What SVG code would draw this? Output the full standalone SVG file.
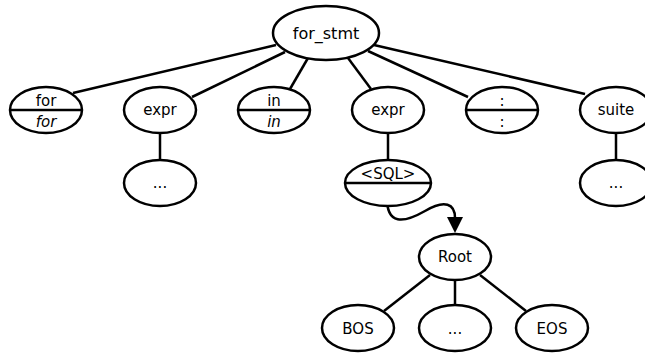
<svg xmlns="http://www.w3.org/2000/svg" width="645" height="356" viewBox="0 0 645 356">
<style>
.n{fill:#fff;stroke:#000;stroke-width:2.5}
.e{stroke:#000;stroke-width:2.5;fill:none}
text{font-family:"DejaVu Sans",sans-serif;font-size:15px;text-anchor:middle;fill:#000}
.i{font-style:italic}
</style>
<g id="connectors">
<line class="e" x1="276" y1="45" x2="73" y2="93"/>
<line class="e" x1="285" y1="52" x2="192" y2="97"/>
<line class="e" x1="308" y1="58" x2="290" y2="89"/>
<line class="e" x1="348" y1="58" x2="371" y2="89"/>
<line class="e" x1="368" y1="51" x2="468" y2="97"/>
<line class="e" x1="374" y1="45" x2="585" y2="94"/>
<line class="e" x1="160" y1="133" x2="160" y2="160"/>
<line class="e" x1="388" y1="133" x2="388" y2="160"/>
<line class="e" x1="616" y1="133" x2="616" y2="160"/>
<line class="e" x1="430" y1="275" x2="384" y2="311"/>
<line class="e" x1="455" y1="280" x2="455" y2="305"/>
<line class="e" x1="480" y1="275" x2="526" y2="311"/>
<path class="e" d="M387,196 C386,226 404,223 425,211 C445,199 455,204 455,218"/>
<path d="M447,217 L463,217 L455,233 z" fill="#000"/>
</g>
<g id="for_stmt"><ellipse class="n" cx="326" cy="33" rx="53" ry="27"/><text x="326" y="39" style="font-size:16px">for_stmt</text></g>
<g id="for"><ellipse class="n" cx="46" cy="110" rx="36" ry="23"/><line class="e" x1="10" y1="110" x2="82" y2="110"/><text x="46" y="106">for</text><text class="i" x="46" y="127">for</text></g>
<g id="expr1"><ellipse class="n" cx="160" cy="110" rx="36" ry="23"/><text x="160" y="115">expr</text></g>
<g id="in"><ellipse class="n" cx="274" cy="110" rx="36" ry="23"/><line class="e" x1="238" y1="110" x2="310" y2="110"/><text x="274" y="106">in</text><text class="i" x="274" y="127">in</text></g>
<g id="expr2"><ellipse class="n" cx="388" cy="110" rx="36" ry="23"/><text x="388" y="115">expr</text></g>
<g id="colon"><ellipse class="n" cx="502" cy="110" rx="36" ry="23"/><line class="e" x1="466" y1="110" x2="538" y2="110"/><text x="502" y="106">:</text><text x="502" y="127">:</text></g>
<g id="suite"><ellipse class="n" cx="616" cy="110" rx="36" ry="23"/><text x="616" y="115">suite</text></g>
<g id="dots1"><ellipse class="n" cx="160" cy="183" rx="36" ry="23"/><text x="160" y="188">...</text></g>
<g id="sql"><ellipse class="n" cx="388" cy="183" rx="43" ry="23"/><line class="e" x1="345" y1="183" x2="431" y2="183"/><text x="388" y="179">&lt;SQL&gt;</text></g>
<g id="dots2"><ellipse class="n" cx="616" cy="183" rx="36" ry="23"/><text x="616" y="188">...</text></g>
<g id="root"><ellipse class="n" cx="455" cy="257" rx="36" ry="23"/><text x="455" y="262">Root</text></g>
<g id="bos"><ellipse class="n" cx="358" cy="328" rx="36" ry="23"/><text x="358" y="334">BOS</text></g>
<g id="dots3"><ellipse class="n" cx="455" cy="328" rx="36" ry="23"/><text x="455" y="334">...</text></g>
<g id="eos"><ellipse class="n" cx="552" cy="328" rx="36" ry="23"/><text x="552" y="334">EOS</text></g>
</svg>
